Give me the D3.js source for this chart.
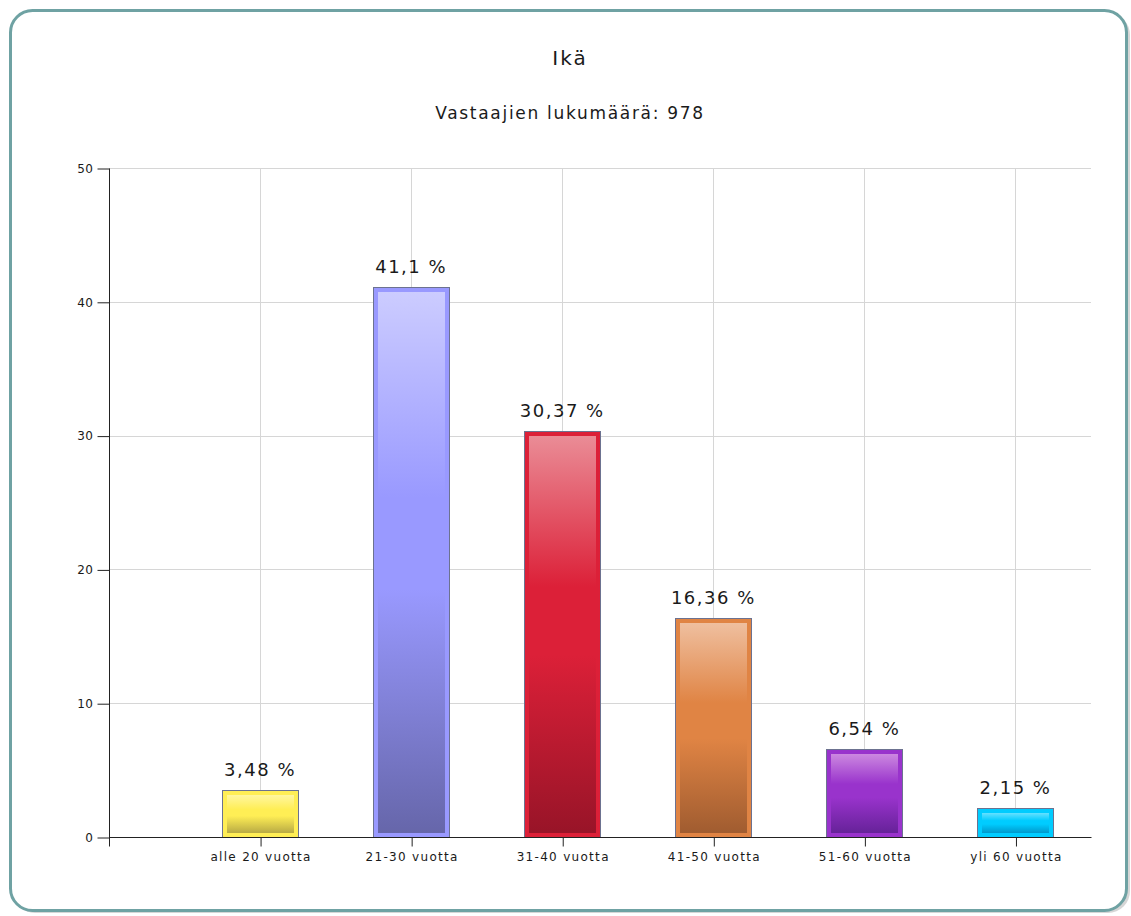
<!DOCTYPE html>
<html>
<head>
<meta charset="utf-8">
<script src="https://cdn.jsdelivr.net/npm/d3@7"></script>
<style>
  html, body { margin: 0; padding: 0; background: #fff; }
  svg { display: block; font-family: "DejaVu Sans", Verdana, sans-serif; }
</style>
</head>
<body>
<div id="chart"></div>
<script>
var title = 'Ikä';
var subtitle = 'Vastaajien lukumäärä: 978';
var categories = ['alle 20 vuotta', '21-30 vuotta', '31-40 vuotta', '41-50 vuotta', '51-60 vuotta', 'yli 60 vuotta'];
var values = [3.48, 41.1, 30.37, 16.36, 6.54, 2.15];
var yTicks = [0, 10, 20, 30, 40, 50];

// light / base / dark per bar
var palette = [
  ['#fff6a0', '#ffee55', '#b8aa44'],
  ['#ccccff', '#9999ff', '#6666aa'],
  ['#ea8c96', '#dc2038', '#981428'],
  ['#efbf9f', '#e08444', '#a05c30'],
  ['#cc88e0', '#9933cc', '#662299'],
  ['#66e0ff', '#00ccff', '#0099cc']
];

var W = 1131, H = 916;
var plotLeft = 109, plotRight = 1091, plotTop = 168, plotBottom = 837;

var svg = d3.select('#chart').append('svg')
    .attr('width', W)
    .attr('height', H);

var defs = svg.append('defs');

// card
svg.append('rect')
    .attr('x', 13).attr('y', 13)
    .attr('width', 1117).attr('height', 900)
    .attr('rx', 22).attr('ry', 22)
    .style('fill', '#bbb').style('opacity', 0.6);
svg.append('rect')
    .attr('x', 10.5).attr('y', 10.5)
    .attr('width', 1116).attr('height', 900)
    .attr('rx', 22).attr('ry', 22)
    .style('fill', '#fff')
    .style('stroke', '#6fa2a3')
    .style('stroke-width', 3);

svg.append('text')
    .attr('x', 570).attr('y', 65)
    .attr('text-anchor', 'middle')
    .style('font-size', '20px')
    .style('letter-spacing', '2px')
    .style('fill', '#1a1a1a')
    .text(title);

svg.append('text')
    .attr('x', 570).attr('y', 119)
    .attr('text-anchor', 'middle')
    .style('font-size', '17px')
    .style('letter-spacing', '1.7px')
    .style('fill', '#1a1a1a')
    .text(subtitle);

var x = d3.scaleLinear().domain([0, categories.length + 0.5]).range([plotLeft, plotRight]);
var y = d3.scaleLinear().domain([0, 50]).range([plotBottom, plotTop]);

var plot = svg.append('g');

// grid
plot.selectAll('line.hgrid')
    .data(yTicks.slice(1))
  .enter().append('line')
    .attr('class', 'hgrid')
    .attr('x1', plotLeft).attr('x2', plotRight)
    .attr('y1', function(d) { return Math.round(y(d)) + 0.5; })
    .attr('y2', function(d) { return Math.round(y(d)) + 0.5; })
    .style('stroke', '#d6d6d6').style('stroke-width', 1);

plot.selectAll('line.vgrid')
    .data(categories)
  .enter().append('line')
    .attr('class', 'vgrid')
    .attr('x1', function(d, i) { return Math.round(x(i + 1)) + 0.5; })
    .attr('x2', function(d, i) { return Math.round(x(i + 1)) + 0.5; })
    .attr('y1', plotTop).attr('y2', plotBottom)
    .style('stroke', '#d6d6d6').style('stroke-width', 1);

// gradients
palette.forEach(function(c, i) {
  var g = defs.append('linearGradient')
      .attr('id', 'grad' + i)
      .attr('x1', 0).attr('y1', 0).attr('x2', 0).attr('y2', 1);
  g.append('stop').attr('offset', '0%').attr('stop-color', c[0]);
  g.append('stop').attr('offset', '38%').attr('stop-color', c[1]);
  g.append('stop').attr('offset', '55%').attr('stop-color', c[1]);
  g.append('stop').attr('offset', '100%').attr('stop-color', c[2]);
});

var bw = 76;
var bars = plot.selectAll('g.bar')
    .data(values)
  .enter().append('g')
    .attr('class', 'bar');

bars.append('rect')
    .attr('x', function(d, i) { return Math.round(x(i + 1) - bw / 2) + 0.5; })
    .attr('y', function(d) { return Math.round(y(d)) + 0.5; })
    .attr('width', bw)
    .attr('height', function(d) { return plotBottom - Math.round(y(d)); })
    .style('fill', function(d, i) { return palette[i][1]; })
    .style('stroke', '#6c7290')
    .style('stroke-width', 1);

bars.append('rect')
    .attr('x', function(d, i) { return Math.round(x(i + 1) - bw / 2) + 5; })
    .attr('y', function(d) { return Math.round(y(d)) + 5; })
    .attr('width', bw - 9)
    .attr('height', function(d) { return Math.max(0, plotBottom - Math.round(y(d)) - 9); })
    .style('fill', function(d, i) { return 'url(#grad' + i + ')'; });

bars.append('text')
    .attr('x', function(d, i) { return x(i + 1); })
    .attr('y', function(d) { return y(d) - 14; })
    .attr('text-anchor', 'middle')
    .style('font-size', '18px')
    .style('letter-spacing', '1.5px')
    .style('fill', '#1a1a1a')
    .text(function(d) { return String(d).replace('.', ',') + ' %'; });

// axes
var yAxis = d3.axisLeft(y).tickValues(yTicks).tickSize(12).tickPadding(4);
var ya = svg.append('g')
    .attr('transform', 'translate(' + (plotLeft + 0.5) + ',0.5)')
    .call(yAxis);
ya.select('.domain').remove();
ya.append('line')
    .attr('x1', 0).attr('x2', 0)
    .attr('y1', plotTop).attr('y2', plotBottom + 9)
    .style('stroke', '#222');
ya.selectAll('.tick line').style('stroke', '#222');
ya.selectAll('.tick text')
    .style('font-size', '12px')
    .style('letter-spacing', '0.5px')
    .style('fill', '#1a1a1a')
    .style('font-family', '"DejaVu Sans", Verdana, sans-serif');

var xAxis = d3.axisBottom(x)
    .tickValues(d3.range(1, categories.length + 1))
    .tickFormat(function(d) { return categories[d - 1]; })
    .tickSize(9).tickPadding(6);
var xa = svg.append('g')
    .attr('transform', 'translate(0.5,' + (plotBottom + 0.5) + ')')
    .call(xAxis);
xa.select('.domain').remove();
xa.append('line')
    .attr('x1', plotLeft).attr('x2', plotRight)
    .attr('y1', 0).attr('y2', 0)
    .style('stroke', '#222');
xa.selectAll('.tick line').style('stroke', '#222');
xa.selectAll('.tick text')
    .style('font-size', '12px')
    .style('letter-spacing', '1.3px')
    .style('fill', '#1a1a1a')
    .style('font-family', '"DejaVu Sans", Verdana, sans-serif');
</script>
</body>
</html>
